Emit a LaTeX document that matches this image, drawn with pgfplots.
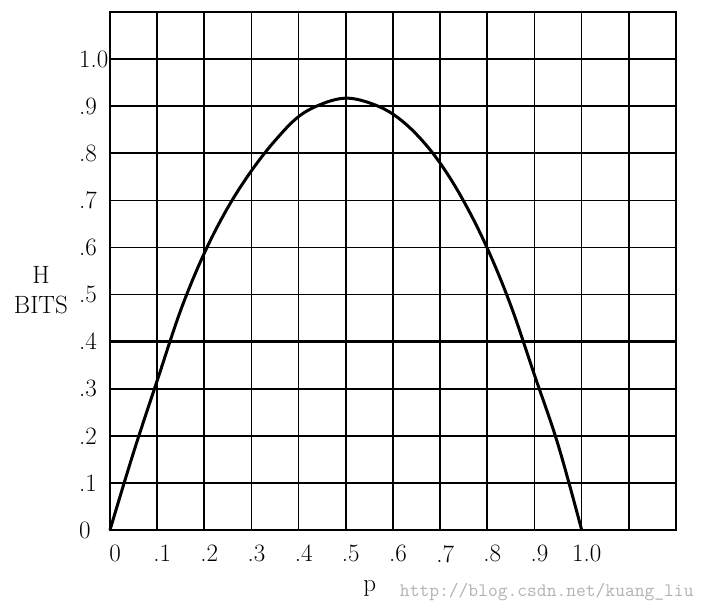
\documentclass[border=0pt]{standalone}
\usepackage{pgfplots}
\pgfplotsset{compat=1.18}
\begin{document}
\begin{tikzpicture}
\begin{axis}[
  name=ax,
  scale only axis,
  width=566pt, height=518pt,
  xmin=0, xmax=1.2, ymin=0, ymax=1.1,
  clip=false,
  axis line style={line width=1.6pt},
  grid=major,
  major grid style={black, line width=1.6pt},
  major tick length=0pt,
  xtick={0,0.1,0.2,0.3,0.4,0.5,0.6,0.7,0.8,0.9,1.0,1.1},
  xticklabels={0,.1,.2,.3,.4,.5,.6,.7,.8,.9,1.0,},
  ytick={0,0.1,0.2,0.3,0.4,0.5,0.6,0.7,0.8,0.9,1.0},
  yticklabels={0,.1,.2,.3,.4,.5,.6,.7,.8,.9,1.0},
  extra x ticks={0.2,0.7,0.8},
  extra x tick labels={},
  extra x tick style={major grid style={black, line width=2.3pt}},
  extra y ticks={0,0.2,0.3,0.4,0.9},
  extra y tick labels={},
  extra y tick style={major grid style={black, line width=2.3pt}},
  ticklabel style={font=\fontsize{25}{30}\selectfont, inner sep=0pt},
  xticklabel style={anchor=north, yshift=-15pt, xshift=5pt},
  yticklabel style={anchor=west, xshift=-31pt},
  xlabel={p},
  xlabel style={font=\fontsize{25}{30}\selectfont, at={(rel axis cs:0.459,0)}, anchor=base, yshift=-61pt, inner sep=0pt},
]
\addplot[black, line width=3pt, smooth, tension=0.6] coordinates {
  (0,0) (0.05,0.165) (0.1,0.317) (0.15,0.467) (0.2,0.588) (0.25,0.685)
  (0.3,0.763) (0.35,0.827) (0.4,0.878) (0.45,0.905) (0.5,0.917)
  (0.55,0.907) (0.6,0.883) (0.65,0.840) (0.7,0.779) (0.75,0.698)
  (0.8,0.598) (0.85,0.476) (0.9,0.329) (0.95,0.181) (1.0,0)
};
\node[align=center, font=\fontsize{25}{30}\selectfont, inner sep=0pt] at (rel axis cs:-0.122,0.463) {H\\BITS};
\node[anchor=base west, inner sep=0pt, text=black!30, font=\fontsize{19}{20}\ttfamily] at (rel axis cs:0.512,0) [yshift=-66pt] {http://blog.csdn.net/kuang\_liu};
\end{axis}
\pgfresetboundingbox
\path ([shift={(-110pt,-82pt)}]ax.south west) rectangle ([shift={(35pt,12pt)}]ax.north east);
\end{tikzpicture}
\end{document}
